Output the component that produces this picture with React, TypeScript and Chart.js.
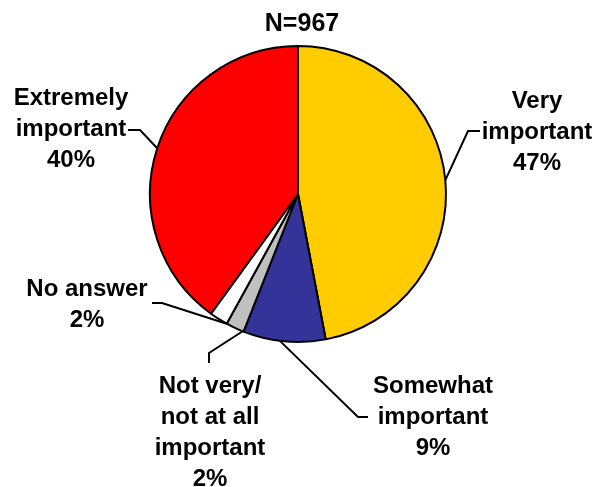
import React, { useEffect, useRef } from "react";
import { Chart, registerables } from "chart.js";

Chart.register(...registerables);

const categories = [
  "Very important",
  "Somewhat important",
  "Not very/ not at all important",
  "No answer",
  "Extremely important",
];
const values = [47, 9, 2, 2, 40];
const colors = ["#FFCC00", "#333399", "#C0C0C0", "#FFFFFF", "#FF0000"];
const labelLines = [
  ["Very", "important", "47%"],
  ["Somewhat", "important", "9%"],
  ["Not very/", "not at all", "important", "2%"],
  ["No answer", "2%"],
  ["Extremely", "important", "40%"],
];
const subtitle = "N=967";

// layout of the callouts (pixels): text centre x, first line cap-centre y, elbow, end of leader,
// and where along the slice (0 = start, 1 = end) the leader touches the rim
const labelLayout = [
  { x: 537, y: 99, elbow: [468, 131], end: [480, 131], at: 0.5 },
  { x: 433, y: 384, elbow: [358, 417], end: [368, 417], at: 0.55 },
  { x: 210, y: 384, elbow: [209, 353], end: [209, 363], at: 0.05 },
  { x: 87, y: 287, elbow: [162, 303], end: [152, 303], at: 0.0 },
  { x: 71, y: 96, elbow: [140, 130], end: [128, 130], at: 0.5 },
];

const FONT = "'Liberation Sans', Arial, sans-serif";
const LABEL_SIZE = 24;
const LINE_H = 31;

const calloutPlugin = {
  id: "callouts",
  afterDraw(chart: any) {
    const ctx = chart.ctx;
    const meta = chart.getDatasetMeta(0);
    ctx.save();
    ctx.fillStyle = "#000";
    ctx.textAlign = "center";
    ctx.textBaseline = "alphabetic";
    ctx.font = `bold 25px ${FONT}`;
    ctx.fillText(subtitle, 302, 22.5 + 0.358 * 25);

    meta.data.forEach((arc: any, i: number) => {
      const p = arc.getProps(["x", "y", "startAngle", "endAngle", "outerRadius"], true);
      const L = labelLayout[i];
      const a = p.startAngle + (p.endAngle - p.startAngle) * L.at;
      const ex = p.x + Math.cos(a) * p.outerRadius;
      const ey = p.y + Math.sin(a) * p.outerRadius;
      ctx.strokeStyle = "#000";
      ctx.lineWidth = 2;
      ctx.beginPath();
      ctx.moveTo(ex, ey);
      ctx.lineTo(L.elbow[0], L.elbow[1]);
      ctx.lineTo(L.end[0], L.end[1]);
      ctx.stroke();

      ctx.font = `bold ${LABEL_SIZE}px ${FONT}`;
      ctx.fillStyle = "#000";
      labelLines[i].forEach((t, k) => {
        ctx.fillText(t, L.x, L.y + k * LINE_H + 0.358 * LABEL_SIZE);
      });
    });
    ctx.restore();
  },
};

export default function App() {
  const ref = useRef<HTMLCanvasElement>(null);
  useEffect(() => {
    document.body.style.margin = "0";
    const chart = new Chart(ref.current!, {
      type: "pie",
      data: {
        labels: categories,
        datasets: [
          {
            data: values,
            backgroundColor: colors,
            borderColor: "#000",
            borderWidth: 2,
          },
        ],
      },
      options: {
        animation: false,
        responsive: false,
        layout: { padding: { left: 0, right: 9, top: 45, bottom: 144 } },
        plugins: {
          legend: { display: false },
          tooltip: { enabled: false },
          title: { display: false },
        },
      },
      plugins: [calloutPlugin],
    });
    return () => chart.destroy();
  }, []);
  return (
    <div style={{ width: 605, height: 487, background: "#fff" }}>
      <canvas ref={ref} width={605} height={487} style={{ display: "block" }} />
    </div>
  );
}
